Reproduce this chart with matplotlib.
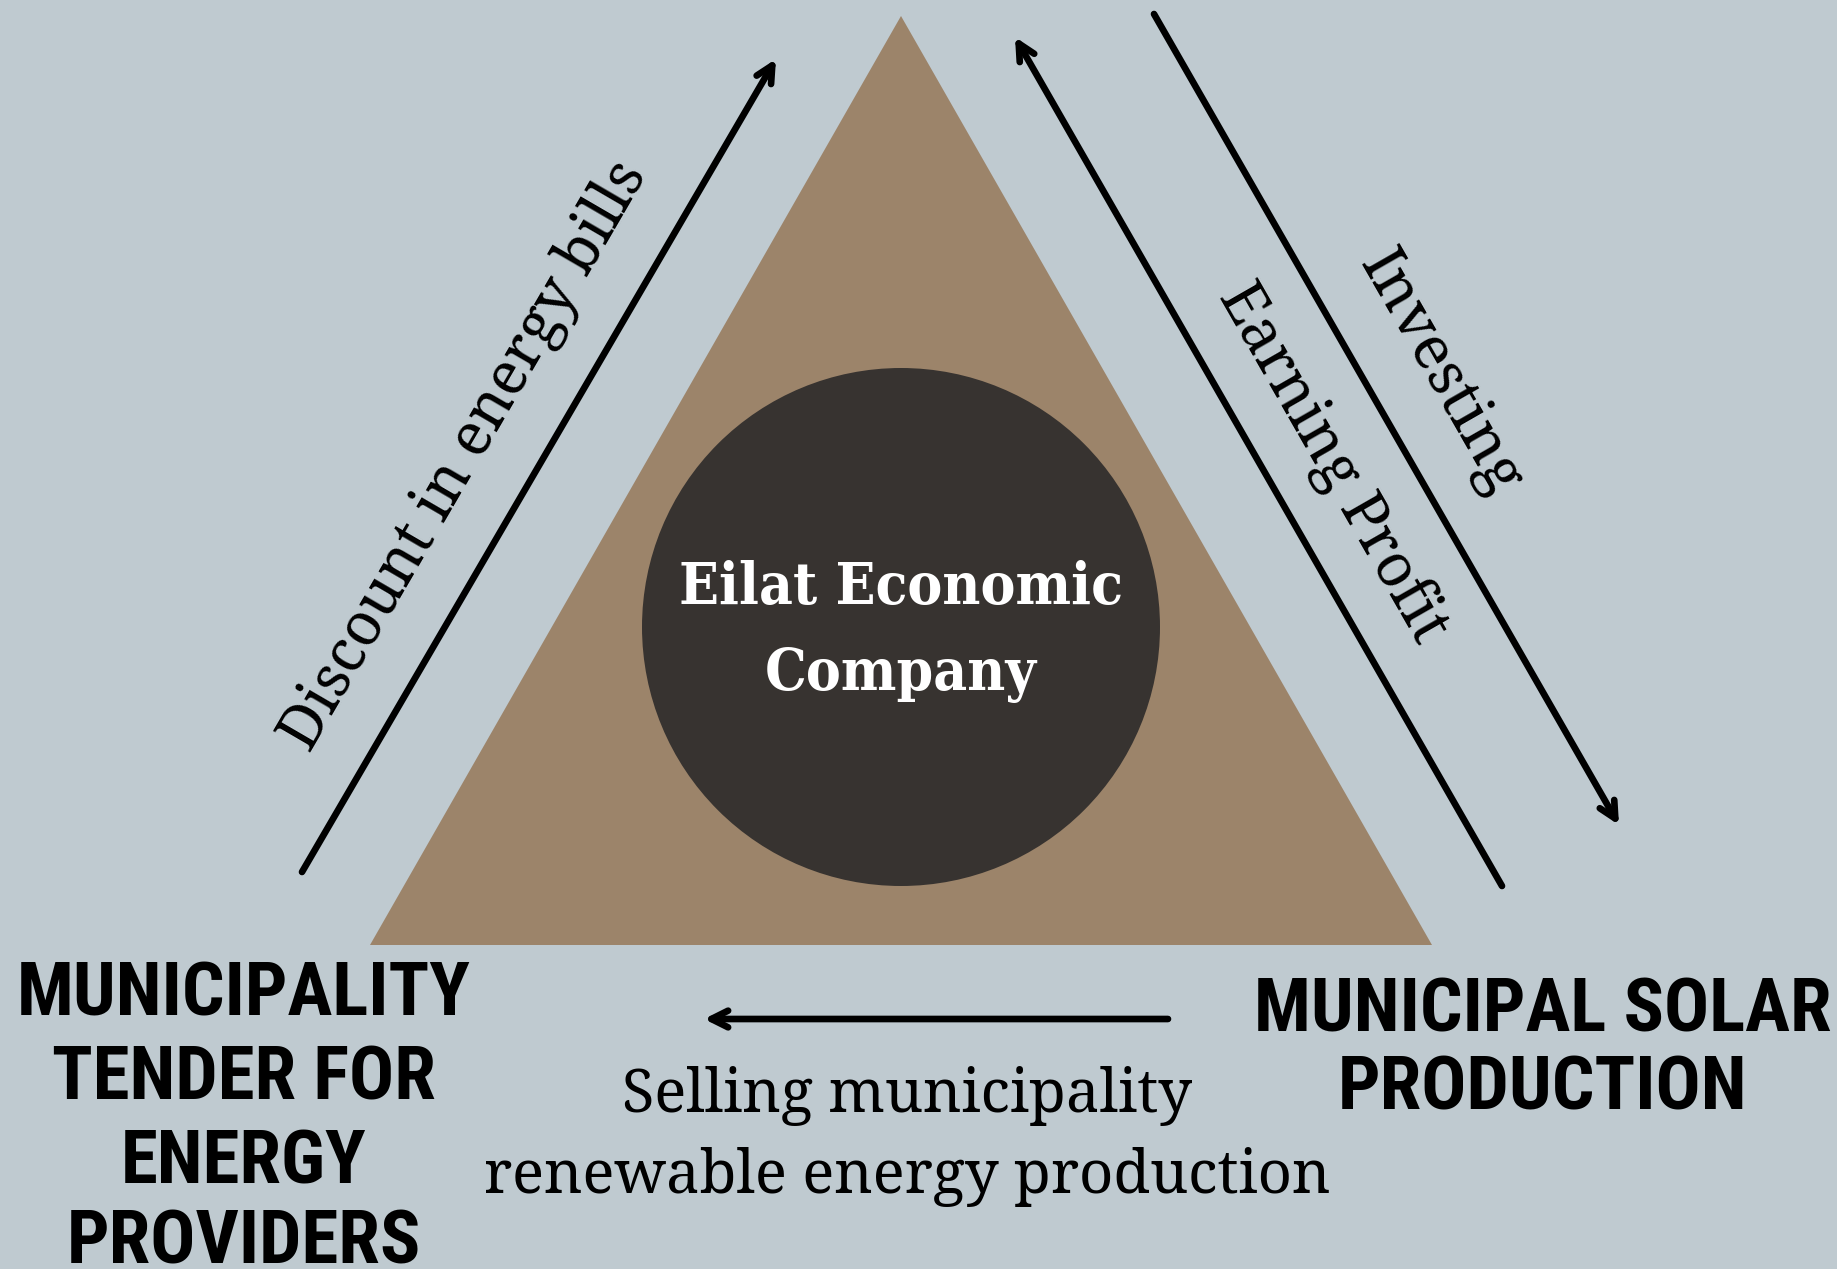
import matplotlib.pyplot as plt
from matplotlib.patches import Polygon, Circle

# labels of the diagram
center_label = ["Eilat Economic", "Company"]
left_node = ["MUNICIPALITY", "TENDER FOR", "ENERGY", "PROVIDERS"]
right_node = ["MUNICIPAL SOLAR", "PRODUCTION"]
flow_left = "Discount in energy bills"
flow_invest = "Investing"
flow_profit = "Earning Profit"
flow_bottom = ["Selling municipality", "renewable energy production"]

BG = "#BFCAD0"
TRI = "#9C846A"
CIRC = "#373330"

fig = plt.figure(figsize=(18.37, 12.69), dpi=100)
fig.patch.set_facecolor(BG)
ax = fig.add_axes([0, 0, 1, 1])
ax.set_xlim(0, 1837)
ax.set_ylim(1269, 0)
ax.set_facecolor(BG)
ax.axis("off")

# triangle and circle
ax.add_patch(Polygon([[901, 16], [370, 945], [1432, 945]], closed=True, color=TRI, lw=0))
ax.add_patch(Circle((901, 627), 259, color=CIRC, lw=0))

serif = ["Noto Serif", "DejaVu Serif"]
heavy = ["Roboto Condensed", "DejaVu Sans"]

ax.text(901, 588, center_label[0], ha="center", va="center", color="white",
        fontsize=42, fontweight="bold", fontstretch="condensed", family=["DejaVu Serif"])
ax.text(901, 675, center_label[1], ha="center", va="center", color="white",
        fontsize=42, fontweight="bold", fontstretch="condensed", family=["DejaVu Serif"])

# arrows
def arrow(x0, y0, x1, y1):
    ax.annotate("", xy=(x1, y1), xytext=(x0, y0),
                arrowprops=dict(arrowstyle="->,head_length=1.2,head_width=0.6",
                                lw=4.8, color="black", shrinkA=0, shrinkB=0,
                                capstyle="round", joinstyle="round"))

arrow(302, 872, 776, 59)
arrow(1502, 886, 1015, 37)
arrow(1154, 14, 1619, 825)
arrow(1168, 1019, 704, 1019)

# flow labels
ax.text(465, 456, flow_left, rotation=59.8, rotation_mode="anchor", ha="center",
        va="center", fontsize=43, family=serif, color="black")
ax.text(1439, 373, flow_invest, rotation=-60.2, rotation_mode="anchor", ha="center",
        va="center", fontsize=44, family=serif, color="black")
ax.text(1333, 463, flow_profit, rotation=-60.2, rotation_mode="anchor", ha="center",
        va="center", fontsize=43, family=serif, color="black")
ax.text(907, 1096, flow_bottom[0], ha="center", va="center", fontsize=43,
        family=serif, color="black")
ax.text(907, 1177, flow_bottom[1], ha="center", va="center", fontsize=43,
        family=serif, color="black")

# node labels
for y, s in zip([995, 1079, 1164, 1244], left_node):
    ax.text(244, y, s, ha="center", va="center", fontsize=54, fontweight="bold",
            fontstretch="condensed", family=heavy, color="black")
for y, s in zip([1012, 1090], right_node):
    ax.text(1543, y, s, ha="center", va="center", fontsize=54, fontweight="bold",
            fontstretch="condensed", family=heavy, color="black")

fig.savefig("out.png", dpi=100, facecolor=BG)
